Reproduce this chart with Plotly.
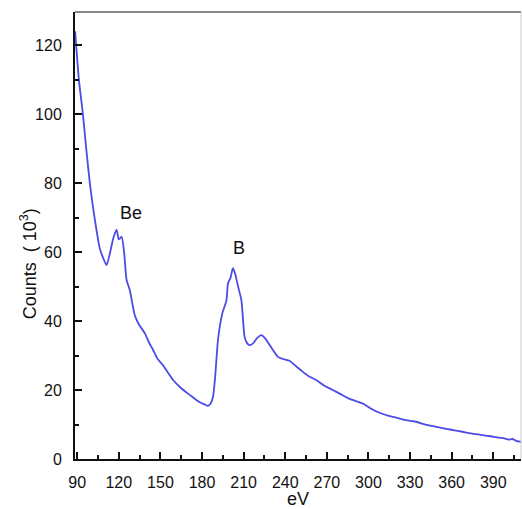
import plotly.graph_objects as go

# Energy (eV) and counts (10^3)
energy = [88.5, 91.2, 94.1, 96.5, 99.1, 102.5, 106.3, 109.0, 111.2, 113.5, 116.0,
          118.4, 120.0, 122.0, 123.8, 125.6, 127.9, 129.8, 131.5, 134.5, 138.7,
          141.5, 144.7, 148.0, 151.9, 155.5, 159.1, 165.0, 171.1, 178.0, 182.0,
          184.3, 186.0, 187.9, 189.5, 191.5, 194.5, 197.6, 198.7, 200.5, 202.3,
          204.0, 206.0, 208.4, 210.7, 212.5, 214.3, 217.0, 220.0, 222.8, 225.5,
          228.0, 231.1, 234.7, 238.5, 243.1, 248.0, 252.0, 257.0, 262.4, 268.0,
          274.3, 280.0, 286.0, 291.0, 295.9, 301.0, 307.9, 314.0, 320.0, 327.0,
          334.3, 341.0, 348.0, 355.0, 361.0, 367.7, 374.0, 381.0, 388.0, 394.0,
          398.0, 401.0, 403.7, 407.0, 410.0]
counts = [124.0, 110.0, 100.0, 90.0, 80.0, 70.0, 61.0, 58.0, 56.2, 59.5, 64.0,
          66.4, 63.7, 64.4, 60.0, 51.9, 49.0, 45.0, 41.7, 39.0, 36.5,
          34.0, 31.6, 29.0, 27.2, 25.0, 22.9, 20.5, 18.6, 16.5, 15.8,
          15.4, 16.0, 18.0, 24.0, 34.5, 42.0, 46.0, 50.9, 52.5, 55.3,
          53.5, 50.0, 46.0, 35.4, 33.6, 33.0, 33.6, 35.2, 35.9, 35.0,
          33.5, 31.6, 29.6, 29.0, 28.5, 26.8, 25.5, 24.0, 22.9, 21.3,
          20.0, 18.8, 17.5, 16.8, 16.1, 14.8, 13.4, 12.6, 12.0, 11.3,
          10.8, 10.0, 9.4, 8.8, 8.4, 7.9, 7.4, 7.0, 6.6, 6.2,
          6.0, 5.6, 5.8, 5.2, 5.0]

peak_labels = ["Be", "B"]
peak_x = [128.5, 207.0]
peak_y = [71.3, 61.3]

x_major = [90, 120, 150, 180, 210, 240, 270, 300, 330, 360, 390]
y_major = [0, 20, 40, 60, 80, 100, 120]

fig = go.Figure()
fig.add_trace(go.Scatter(x=energy, y=counts, mode="lines",
                         line=dict(color="#4b4be6", width=1.8, shape="spline", smoothing=0.6),
                         hoverinfo="skip", showlegend=False))

for t, xx, yy in zip(peak_labels, peak_x, peak_y):
    fig.add_annotation(x=xx, y=yy, text=t, showarrow=False,
                       font=dict(size=18, color="#111", family="Liberation Sans, Arial"))

# y-axis title placed precisely
fig.add_annotation(xref="paper", yref="paper", x=-0.105, y=0.436, text="Counts  ( 10<sup>3</sup>)",
                   textangle=-90, showarrow=False, xanchor="center", yanchor="middle",
                   font=dict(size=18, color="#111", family="Liberation Sans, Arial"))

fig.update_layout(
    width=522, height=509,
    margin=dict(l=75, r=1, t=12, b=50),
    paper_bgcolor="white", plot_bgcolor="white",
    font=dict(family="Liberation Sans, Arial", color="#111", size=16),
    xaxis=dict(range=[88.4, 410], tickvals=x_major, ticks="inside", ticklen=7,
               tickwidth=2, tickcolor="#111", showline=True, linecolor="#111",
               linewidth=2, showgrid=False, zeroline=False, automargin=False,
               ticklabelstandoff=8,
               minor=dict(ticks="inside", ticklen=4, tickwidth=1.5, dtick=15,
                          tick0=90, tickcolor="#111"),
               title=dict(text="eV", font=dict(size=18), standoff=4)),
    yaxis=dict(range=[0, 129.6], tickvals=y_major, ticks="inside", ticklen=7,
               tickwidth=2, tickcolor="#111", showline=True, linecolor="#111",
               linewidth=2, showgrid=False, zeroline=False, automargin=False,
               ticklabelstandoff=8,
               minor=dict(ticks="inside", ticklen=4, tickwidth=1.5, dtick=10,
                          tick0=0, tickcolor="#111")),
)

fig.add_shape(type="line", xref="paper", yref="paper", x0=0, x1=1, y0=1, y1=1,
              line=dict(color="#888", width=2))
fig.add_shape(type="line", xref="paper", yref="paper", x0=1, x1=1, y0=0, y1=1,
              line=dict(color="#ccc", width=1))

fig.write_html("out.html", config={"displayModeBar": False},
               post_script="document.body.style.margin='0';document.body.style.overflow='hidden';")
